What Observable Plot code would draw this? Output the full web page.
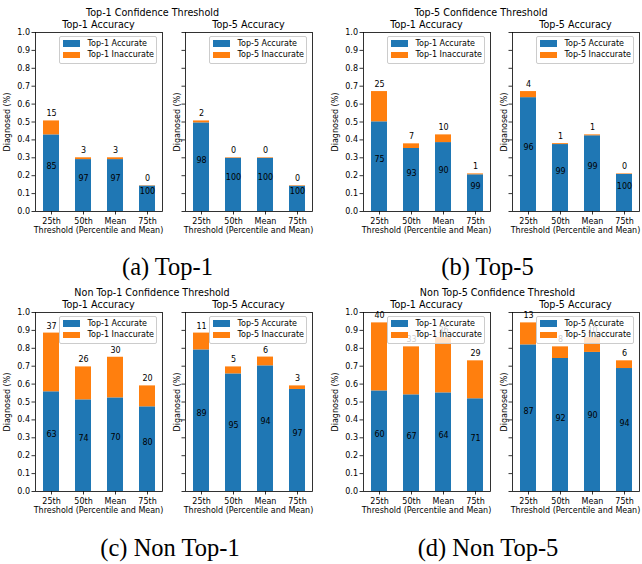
<!DOCTYPE html>
<html>
<head>
<meta charset="utf-8">
<script src="https://cdn.jsdelivr.net/npm/d3@7"></script>
<script src="https://cdn.jsdelivr.net/npm/@observablehq/plot@0.6"></script>
<style>
  body { margin: 0; background: #fff; }
  #fig { position: relative; width: 642px; height: 564px; font-family: "DejaVu Sans", sans-serif; overflow: hidden; }
  #fig svg text { font-family: "DejaVu Sans", sans-serif; }
  .abs { position: absolute; }
  .lbl { position: absolute; font-size: 8px; transform: translate(-50%, -50%); white-space: nowrap; color: #000; line-height: 1; }
  .ylbl { position: absolute; font-size: 8px; transform: translate(-50%, -50%) rotate(-90deg); white-space: nowrap; color: #000; line-height: 1; }
  .ttl { position: absolute; font-size: 9.6px; transform: translate(-50%, -50%); white-space: nowrap; color: #000; line-height: 1; }
  .sup { position: absolute; font-size: 9.6px; transform: translate(-50%, -50%); white-space: nowrap; color: #000; line-height: 1; }
  .cap { position: absolute; font-family: "Liberation Serif", "Times New Roman", serif; font-size: 24.5px; transform: translate(-50%, -50%); white-space: nowrap; color: #000; }
  .legend { position: absolute; background: rgba(255,255,255,0.8); border: 0.8px solid #cccccc; border-radius: 2px;
            box-sizing: border-box; font-size: 8px; padding: 1px 2px 2.5px 3px; color: #000; }
  .legend .row { display: flex; align-items: center; height: 11.3px; white-space: nowrap; }
  .legend .sw { width: 16.5px; height: 6.5px; margin-right: 8px; }
</style>
</head>
<body>
<div id="fig"></div>
<script>
// Threshold categories on the x axis
const thresholds = ["25th", "50th", "Mean", "75th"];
const yTicks = [0, 0.1, 0.2, 0.3, 0.4, 0.5, 0.6, 0.7, 0.8, 0.9, 1.0];
const colors = ["#1f77b4", "#ff7f0e"];

// (a) Top-1 confidence threshold
const a_top1Acc    = [0.428, 0.290, 0.290, 0.142];
const a_top1Inacc  = [0.078, 0.010, 0.010, 0.002];
const a_top1AccPct = [85, 97, 97, 100];
const a_top1InPct  = [15, 3, 3, 0];
const a_top5Acc    = [0.495, 0.297, 0.297, 0.141];
const a_top5Inacc  = [0.011, 0.003, 0.003, 0.003];
const a_top5AccPct = [98, 100, 100, 100];
const a_top5InPct  = [2, 0, 0, 0];

// (b) Top-5 confidence threshold
const b_top1Acc    = [0.501, 0.352, 0.385, 0.205];
const b_top1Inacc  = [0.169, 0.026, 0.043, 0.005];
const b_top1AccPct = [75, 93, 90, 99];
const b_top1InPct  = [25, 7, 10, 1];
const b_top5Acc    = [0.636, 0.374, 0.423, 0.207];
const b_top5Inacc  = [0.034, 0.005, 0.005, 0.003];
const b_top5AccPct = [96, 99, 99, 100];
const b_top5InPct  = [4, 1, 1, 0];

// (c) Non Top-1 confidence threshold
const c_top1Acc    = [0.557, 0.512, 0.523, 0.473];
const c_top1Inacc  = [0.328, 0.184, 0.227, 0.117];
const c_top1AccPct = [63, 74, 70, 80];
const c_top1InPct  = [37, 26, 30, 20];
const c_top5Acc    = [0.791, 0.657, 0.702, 0.570];
const c_top5Inacc  = [0.094, 0.039, 0.049, 0.020];
const c_top5AccPct = [89, 95, 94, 97];
const c_top5InPct  = [11, 5, 6, 3];

// (d) Non Top-5 confidence threshold
const d_top1Acc    = [0.562, 0.540, 0.551, 0.518];
const d_top1Inacc  = [0.380, 0.268, 0.309, 0.212];
const d_top1AccPct = [60, 67, 64, 71];
const d_top1InPct  = [40, 33, 36, 29];
const d_top5Acc    = [0.819, 0.743, 0.777, 0.687];
const d_top5Inacc  = [0.123, 0.065, 0.083, 0.043];
const d_top5AccPct = [87, 92, 90, 94];
const d_top5InPct  = [13, 8, 10, 6];

const fig = document.getElementById("fig");
const FW = 127, FH = 179;           // frame size of each subplot
const mL = 36, mR = 4, mT = 20, mB = 32;
const FONT = "DejaVu Sans";
const txt = {fontFamily: FONT, fontSize: 8, fill: "#000"};

function textAt(cls, s, x, y) {
  const el = document.createElement("div");
  el.className = cls;
  el.textContent = s;
  el.style.left = x + "px";
  el.style.top = y + "px";
  fig.appendChild(el);
}

function panel({acc, inacc, accPct, inPct, kind, yLabel, tickLabels, left, top}) {
  const parts = [`${kind} Accurate`, `${kind} Inaccurate`];
  const rows = [];
  thresholds.forEach((t, i) => {
    rows.push({t, part: parts[0], v: acc[i]});
    rows.push({t, part: parts[1], v: inacc[i]});
  });
  const inner = thresholds.map((t, i) => ({t, y: acc[i] / 2, label: String(accPct[i])}));
  const above = thresholds.map((t, i) => ({t, y: acc[i] + inacc[i], label: String(inPct[i])}));

  const chart = Plot.plot({
    width: FW + mL + mR,
    height: FH + mT + mB,
    marginLeft: mL, marginRight: mR, marginTop: mT, marginBottom: mB,
    style: {fontFamily: FONT, fontSize: "8px", color: "#000", background: "transparent", overflow: "visible", maxWidth: "none"},
    x: {domain: thresholds, paddingInner: 0.5, paddingOuter: 0.175, label: null},
    y: {domain: [0, 1], label: null},
    color: {domain: parts, range: colors},
    marks: [
      Plot.barY(rows, {x: "t", y: "v", fill: "part"}),
      Plot.text(inner, {x: "t", y: "y", text: "label", dy: -7, lineAnchor: "middle", ...txt}),
      Plot.text(above, {x: "t", y: "y", text: "label", dy: -7, lineAnchor: "middle", ...txt}),
      Plot.axisX({tickSize: 3.5, tickPadding: 3, label: null, strokeWidth: 0.8, ...txt}),
      Plot.axisY({ticks: yTicks, tickSize: 3.5, tickPadding: 2, label: null, strokeWidth: 0.8, ...txt,
                  tickFormat: tickLabels ? d3.format(".1f") : () => ""}),
      Plot.frame({stroke: "#000", strokeWidth: 0.8})
    ]
  });
  const holder = document.createElement("div");
  holder.className = "abs";
  holder.style.left = (left - mL) + "px";
  holder.style.top = (top - mT) + "px";
  holder.style.width = (FW + mL + mR) + "px";
  holder.appendChild(chart);
  fig.appendChild(holder);

  // subplot title and axis labels
  textAt("ttl", `${kind} Accuracy`, left + FW / 2, top - 7);
  textAt("lbl", "Threshold (Percentile and Mean)", left + FW / 2, top + FH + 20);
  textAt("ylbl", yLabel, left - (tickLabels ? 27 : 7), top + FH / 2);

  // legend box in the upper right corner of the frame
  const lg = document.createElement("div");
  lg.className = "legend";
  lg.style.right = (642 - (left + FW - 5)) + "px";
  lg.style.top = (top + 4) + "px";
  parts.forEach((p, i) => {
    const r = document.createElement("div");
    r.className = "row";
    const sw = document.createElement("span");
    sw.className = "sw";
    sw.style.background = colors[i];
    r.appendChild(sw);
    r.appendChild(document.createTextNode(p));
    lg.appendChild(r);
  });
  fig.appendChild(lg);
}

panel({acc: a_top1Acc, inacc: a_top1Inacc, accPct: a_top1AccPct, inPct: a_top1InPct, kind: "Top-1", yLabel: "Diagnosed (%)", tickLabels: true, left: 35, top: 32});
panel({acc: a_top5Acc, inacc: a_top5Inacc, accPct: a_top5AccPct, inPct: a_top5InPct, kind: "Top-5", yLabel: "Diganosed (%)", tickLabels: false, left: 185, top: 32});
panel({acc: b_top1Acc, inacc: b_top1Inacc, accPct: b_top1AccPct, inPct: b_top1InPct, kind: "Top-1", yLabel: "Diagnosed (%)", tickLabels: true, left: 363, top: 32});
panel({acc: b_top5Acc, inacc: b_top5Inacc, accPct: b_top5AccPct, inPct: b_top5InPct, kind: "Top-5", yLabel: "Diganosed (%)", tickLabels: false, left: 512, top: 32});
panel({acc: c_top1Acc, inacc: c_top1Inacc, accPct: c_top1AccPct, inPct: c_top1InPct, kind: "Top-1", yLabel: "Diagnosed (%)", tickLabels: true, left: 35, top: 312});
panel({acc: c_top5Acc, inacc: c_top5Inacc, accPct: c_top5AccPct, inPct: c_top5InPct, kind: "Top-5", yLabel: "Diganosed (%)", tickLabels: false, left: 185, top: 312});
panel({acc: d_top1Acc, inacc: d_top1Inacc, accPct: d_top1AccPct, inPct: d_top1InPct, kind: "Top-1", yLabel: "Diagnosed (%)", tickLabels: true, left: 363, top: 312});
panel({acc: d_top5Acc, inacc: d_top5Inacc, accPct: d_top5AccPct, inPct: d_top5InPct, kind: "Top-5", yLabel: "Diganosed (%)", tickLabels: false, left: 512, top: 312});

textAt("sup", "Top-1 Confidence Threshold", 152.5, 13);
textAt("sup", "Top-5 Confidence Threshold", 481, 13);
textAt("sup", "Non Top-1 Confidence Threshold", 152, 293);
textAt("sup", "Non Top-5 Confidence Threshold", 497.5, 293);

textAt("cap", "(a) Top-1", 167.5, 267);
textAt("cap", "(b) Top-5", 487.5, 267);
textAt("cap", "(c) Non Top-1", 170, 548);
textAt("cap", "(d) Non Top-5", 488, 548);
</script>
</body>
</html>
